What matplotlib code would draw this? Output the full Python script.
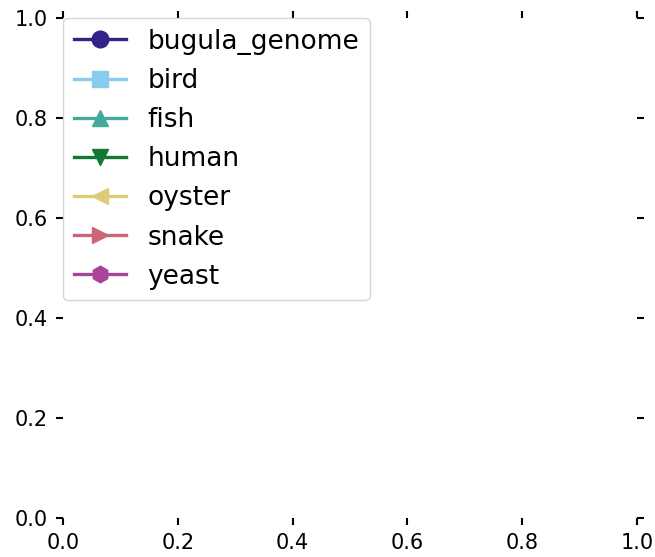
import matplotlib
matplotlib.use('Agg')
import matplotlib.pyplot as plt

# series shown in the legend (the plot itself holds no points)
labels = ['bugula_genome', 'bird', 'fish', 'human', 'oyster', 'snake', 'yeast']
markers = ['o', 's', '^', 'v', '<', '>', 'h']
colors = ['#332288', '#88CCEE', '#44AA99', '#117733', '#DDCC77', '#CC6677', '#AA4499']
xvals = [[] for _ in labels]
yvals = [[] for _ in labels]

fig = plt.figure(figsize=(6.55, 5.57), dpi=100)
ax = fig.add_axes([63/655., 1 - 518/557., (637-63)/655., (518-18)/557.])

for i in range(len(labels)):
    ax.plot(xvals[i], yvals[i], marker=markers[i], color=colors[i],
            lw=2.4, ms=12, label=labels[i])

ax.set_xlim(0, 1)
ax.set_ylim(0, 1)
for s in ax.spines.values():
    s.set_visible(False)
ax.tick_params(axis='both', which='both', direction='out', top=True, right=True,
               labeltop=False, labelright=False, labelsize=15, length=5,
               width=1.5, pad=6)

ax.legend(loc='upper left', bbox_to_anchor=(0, 1), borderaxespad=0,
          fontsize=19, handlelength=2.0)

fig.savefig('out.png', dpi=100)
